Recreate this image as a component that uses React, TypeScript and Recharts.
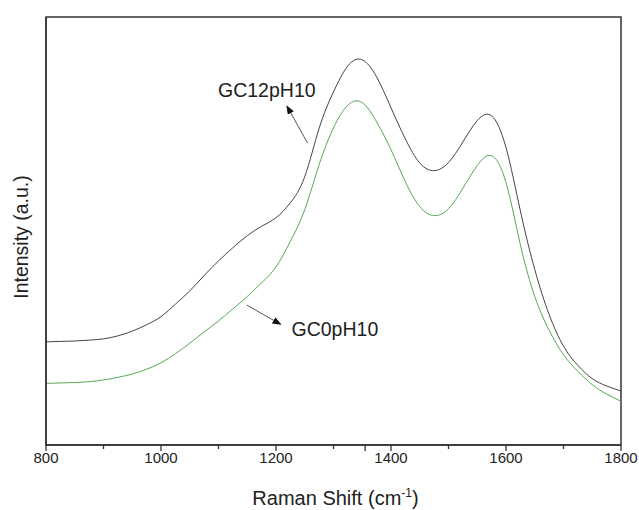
import { Line, LineChart, ReferenceArea, ReferenceDot, ReferenceLine, XAxis, YAxis } from "recharts";

// Raman shift (cm-1), every 25
const shifts = [800, 825, 850, 875, 900, 925, 950, 975, 1000, 1025, 1050, 1075, 1100, 1125, 1150, 1175, 1200, 1225, 1250, 1275, 1300, 1325, 1350, 1375, 1400, 1425, 1450, 1475, 1500, 1525, 1550, 1575, 1600, 1625, 1650, 1675, 1700, 1725, 1750, 1775, 1800];
// intensity, arbitrary units
const gc12 = [24.1, 24.2, 24.3, 24.5, 24.8, 25.5, 26.6, 28.1, 30.0, 32.9, 36.0, 39.6, 43.0, 46.1, 48.9, 51.1, 53.1, 56.6, 62.7, 74.0, 82.5, 88.6, 90.0, 86.0, 78.8, 71.5, 65.9, 64.1, 66.0, 70.8, 75.8, 76.9, 69.5, 54.7, 41.0, 30.5, 23.1, 18.6, 15.5, 13.8, 12.6];
const gc0 = [14.4, 14.5, 14.6, 14.8, 15.2, 15.8, 16.6, 17.7, 19.2, 21.3, 23.8, 26.4, 29.0, 31.8, 34.7, 37.9, 41.6, 47.6, 55.0, 65.5, 74.1, 79.4, 80.0, 75.5, 69.0, 61.5, 55.7, 53.6, 55.2, 60.0, 65.3, 67.6, 61.3, 46.8, 34.7, 26.8, 21.1, 17.2, 14.1, 11.9, 10.2];

const xTicks = [800, 900, 1000, 1100, 1200, 1300, 1355, 1400, 1500, 1600, 1700, 1800];
const xLabels = [800, 1000, 1200, 1400, 1600, 1800];

const data = shifts.map((s, i) => ({ shift: s, gc12: gc12[i], gc0: gc0[i] }));

const FONT = "'Liberation Sans', Arial, sans-serif";
const AXIS = "#333";

function XTick(props: any) {
    const { x, y, payload } = props;
    const v = payload.value;
    const labelled = xLabels.includes(v);
    const major = labelled || v === 1355;
    return (
        <g>
            <line x1={x} x2={x} y1={y} y2={y + (major ? 6 : 4)} stroke={AXIS} strokeWidth={1.3} />
            {labelled && (
                <text x={x} y={y + 17.5} textAnchor="middle" fontSize={15} fontFamily={FONT} fill="#222">
                    {v}
                </text>
            )}
        </g>
    );
}

function tag(text: string, anchor: "start" | "middle") {
    return ({ viewBox }: any) => (
        <text x={viewBox.x} y={viewBox.y} textAnchor={anchor} fontSize={19.5} fontFamily={FONT} fill="#222">
            {text}
        </text>
    );
}

export default function App() {
    return (
        <div style={{ position: "absolute", left: 0, top: 0, background: "#fff" }}>
            <LineChart width={639} height={510} data={data} margin={{ top: 17, right: 18, bottom: 0, left: 0 }}>
                <defs>
                    <marker id="head" markerUnits="userSpaceOnUse" markerWidth={9} markerHeight={7} refX={8} refY={3.5} orient="auto">
                        <path d="M0,0 L9,3.5 L0,7 z" fill="#111" />
                    </marker>
                </defs>
                <XAxis
                    dataKey="shift"
                    type="number"
                    domain={[800, 1800]}
                    ticks={xTicks}
                    interval={0}
                    height={65}
                    tickSize={0}
                    tickMargin={0}
                    tickLine={false}
                    axisLine={{ stroke: AXIS, strokeWidth: 1.5 }}
                    tick={<XTick />}
                    label={{
                        content: ({ viewBox }: any) => (
                            <text x={viewBox.x + viewBox.width / 2 + 2} y={viewBox.y + 60} textAnchor="middle" fontSize={20} fontFamily={FONT} fill="#222">
                                Raman Shift (cm
                                <tspan dy={-8} fontSize={12}>-1</tspan>
                                <tspan dy={8}>)</tspan>
                            </text>
                        ),
                    }}
                />
                <YAxis
                    type="number"
                    domain={[0, 100]}
                    width={46}
                    tick={false}
                    tickLine={false}
                    axisLine={{ stroke: AXIS, strokeWidth: 1.5 }}
                    label={{
                        content: ({ viewBox }: any) => {
                            const cx = viewBox.x + 28;
                            const cy = viewBox.y + viewBox.height / 2 + 6;
                            return (
                                <text x={cx} y={cy} transform={`rotate(-90, ${cx}, ${cy})`} textAnchor="middle" fontSize={19.5} fontFamily={FONT} fill="#222">
                                    Intensity (a.u.)
                                </text>
                            );
                        },
                    }}
                />
                <ReferenceArea x1={800} x2={1800} y1={0} y2={100} fill="none" fillOpacity={0} stroke={AXIS} strokeWidth={1.5} ifOverflow="visible" />
                <Line type="natural" dataKey="gc12" stroke="#444" strokeWidth={1} dot={false} isAnimationActive={false} />
                <Line type="natural" dataKey="gc0" stroke="#55a855" strokeWidth={1} dot={false} isAnimationActive={false} />
                <ReferenceLine
                    segment={[{ x: 1255, y: 70.5 }, { x: 1219, y: 79.2 }]}
                    stroke="#555"
                    strokeWidth={1}
                    markerEnd="url(#head)"
                    ifOverflow="visible"
                />
                <ReferenceLine
                    segment={[{ x: 1149, y: 32.7 }, { x: 1208, y: 28.2 }]}
                    stroke="#555"
                    strokeWidth={1}
                    markerEnd="url(#head)"
                    ifOverflow="visible"
                />
                <ReferenceDot x={1184} y={81.3} r={0} fill="none" stroke="none" ifOverflow="visible" label={{ content: tag("GC12pH10", "middle") }} />
                <ReferenceDot x={1227} y={25.5} r={0} fill="none" stroke="none" ifOverflow="visible" label={{ content: tag("GC0pH10", "start") }} />
            </LineChart>
        </div>
    );
}
